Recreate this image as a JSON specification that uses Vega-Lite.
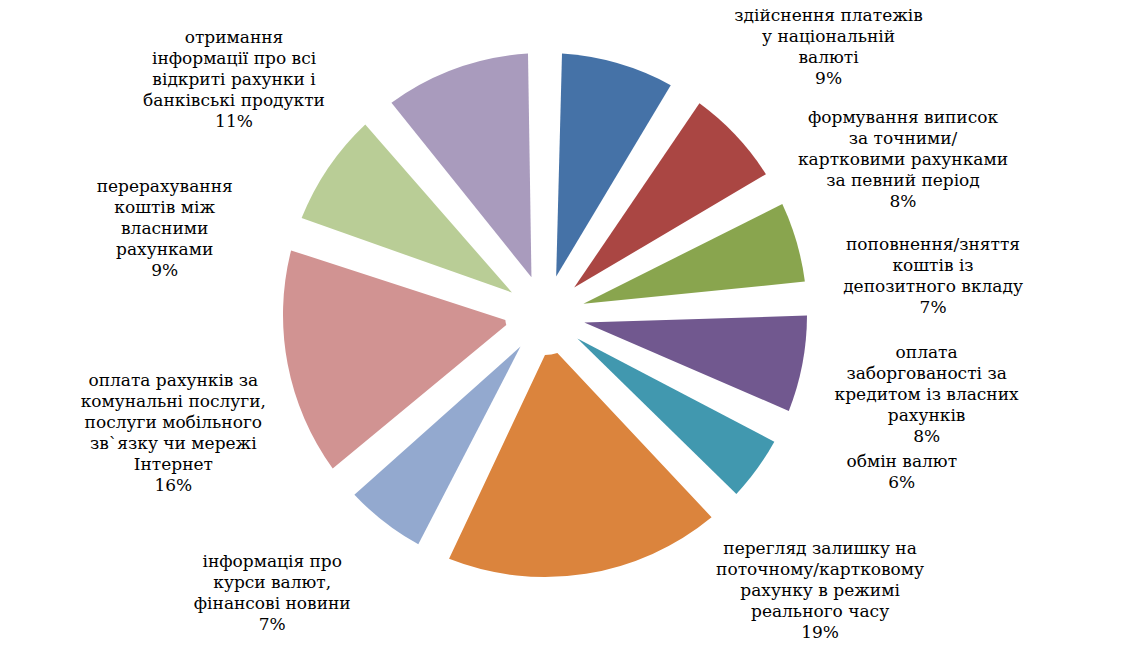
{
  "$schema": "https://vega.github.io/schema/vega-lite/v6.json",
  "autosize": {"type": "none"},
  "width": 1090,
  "height": 630,
  "padding": {"left": 0, "top": 0, "right": 56, "bottom": 16},
  "background": "white",
  "config": {"view": {"stroke": null}},
  "data": {
    "values": [
      {"n": 1, "value": 9, "label": "здійснення платежів\nу національній\nвалюті\n9%"},
      {"n": 2, "value": 8, "label": "формування виписок\nза точними/\nкартковими рахунками\nза певний період\n8%"},
      {"n": 3, "value": 7, "label": "поповнення/зняття\nкоштів із\nдепозитного вкладу\n7%"},
      {"n": 4, "value": 8, "label": "оплата\nзаборгованості за\nкредитом із власних\nрахунків\n8%"},
      {"n": 5, "value": 6, "label": "обмін валют\n6%"},
      {"n": 6, "value": 19, "label": "перегляд залишку на\nпоточному/картковому\nрахунку в режимі\nреального часу\n19%"},
      {"n": 7, "value": 7, "label": "інформація про\nкурси валют,\nфінансові новини\n7%"},
      {"n": 8, "value": 16, "label": "оплата рахунків за\nкомунальні послуги,\nпослуги мобільного\nзв`язку чи мережі\nІнтернет\n16%"},
      {"n": 9, "value": 9, "label": "перерахування\nкоштів між\nвласними\nрахунками\n9%"},
      {"n": 10, "value": 11, "label": "отримання\nінформації про всі\nвідкриті рахунки і\nбанківські продукти\n11%"}
    ]
  },
  "encoding": {
    "theta": {"field": "value", "type": "quantitative", "stack": true},
    "order": {"field": "n", "type": "quantitative"}
  },
  "layer": [
    {
      "mark": {"type": "arc", "outerRadius": 262, "innerRadius": 40, "padAngle": 0.1284},
      "encoding": {
        "color": {
          "field": "n",
          "type": "nominal",
          "scale": {
            "domain": [1, 2, 3, 4, 5, 6, 7, 8, 9, 10],
            "range": ["#4572A7", "#AA4643", "#89A54E", "#71588F", "#4198AF", "#DB843D", "#93A9CF", "#D19392", "#B9CD96", "#A99BBD"]
          },
          "legend": null
        }
      }
    },
    {
      "mark": {
        "type": "text",
        "radius": 390,
        "font": "DejaVu Serif",
        "fontSize": 17,
        "lineHeight": 21,
        "lineBreak": "\n",
        "align": "center",
        "baseline": "middle",
        "color": "black",
        "dy": {"expr": "-(length(split(datum.label, '\\n')) - 1) * 10.5"}
      },
      "encoding": {
        "text": {"field": "label", "type": "nominal"},
        "theta": {
          "field": "value",
          "type": "quantitative",
          "stack": true,
          "scale": {"domain": [0, 28, 48, 58, 100], "range": [0.6294, 1.7785, 2.3736, 3.81, 5.5938]}
        }
      }
    }
  ],
  "resolve": {"scale": {"theta": "independent"}}
}
